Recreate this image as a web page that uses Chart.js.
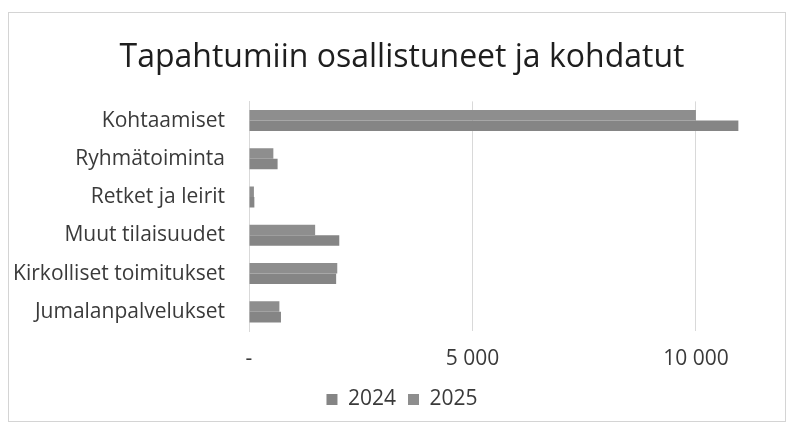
<!DOCTYPE html>
<html lang="fi">
<head>
  <meta charset="UTF-8" />
  <title>Tapahtumiin osallistuneet ja kohdatut</title>
  <script src="https://cdn.jsdelivr.net/npm/chart.js"></script>
  <style>
    html, body { margin: 0; padding: 0; background: #fff; }
    .frame {
      position: absolute; left: 8px; top: 12px; width: 778px; height: 410px;
      border: 1px solid #d4d4d4; box-sizing: border-box;
    }
    canvas { position: absolute; left: 0; top: 0; }
  </style>
</head>
<body>
  <div class="frame"></div>
  <canvas id="chart" width="792" height="432"></canvas>

  <script>
    // data, top to bottom as shown
    const categories = [
      'Kohtaamiset',
      'Ryhmätoiminta',
      'Retket ja leirit',
      'Muut tilaisuudet',
      'Kirkolliset toimitukset',
      'Jumalanpalvelukset'
    ];
    const values2024 = [10950, 640, 120, 2020, 1950, 715];
    const values2025 = [10000, 545, 110, 1480, 1975, 680];
    const tickValues = [0, 5000, 10000];

    const textColor = '#3a3a3a';
    const fontFamily = '"Open Sans", sans-serif';

    function fmt(v) {
      if (v === 0) return '-';
      return String(v).replace(/\B(?=(\d{3})+(?!\d))/g, ' ');
    }

    new Chart(document.getElementById('chart'), {
      type: 'bar',
      data: {
        labels: categories,
        datasets: [
          {
            label: '2025',
            data: values2025,
            backgroundColor: '#8e8e8e',
            categoryPercentage: 0.55,
            barPercentage: 1.0
          },
          {
            label: '2024',
            data: values2024,
            backgroundColor: '#858585',
            categoryPercentage: 0.55,
            barPercentage: 1.0
          }
        ]
      },
      options: {
        indexAxis: 'y',
        responsive: false,
        animation: false,
        layout: { padding: { top: 29, right: 0, left: 12, bottom: 12 } },
        scales: {
          x: {
            min: 0,
            max: 12150, // plot runs on to the right edge, only 0/5000/10000 are shown
            afterBuildTicks: axis => {
              axis.ticks = tickValues.map(v => ({ value: v }));
            },
            afterFit: axis => { axis.height = 46; },
            grid: { color: '#d9d9d9', drawTicks: false },
            border: { display: false },
            ticks: {
              padding: 15,
              color: textColor,
              font: { family: fontFamily, size: 21 },
              callback: v => fmt(v)
            }
          },
          y: {
            afterFit: axis => { axis.width = 237; },
            grid: { display: false, drawTicks: false },
            border: { display: true, color: '#d9d9d9' },
            ticks: {
              padding: 24,
              color: textColor,
              font: { family: fontFamily, size: 21 }
            }
          }
        },
        plugins: {
          title: {
            display: true,
            text: 'Tapahtumiin osallistuneet ja kohdatut',
            color: '#1e1e1e',
            font: { family: fontFamily, size: 32, weight: 'normal' },
            padding: { top: 10, bottom: 24 }
          },
          legend: {
            position: 'bottom',
            reverse: true,
            labels: {
              color: textColor,
              font: { family: fontFamily, size: 21 },
              boxWidth: 11,
              boxHeight: 11,
              padding: 12
            }
          },
          tooltip: { enabled: false }
        }
      }
    });
  </script>
</body>
</html>
